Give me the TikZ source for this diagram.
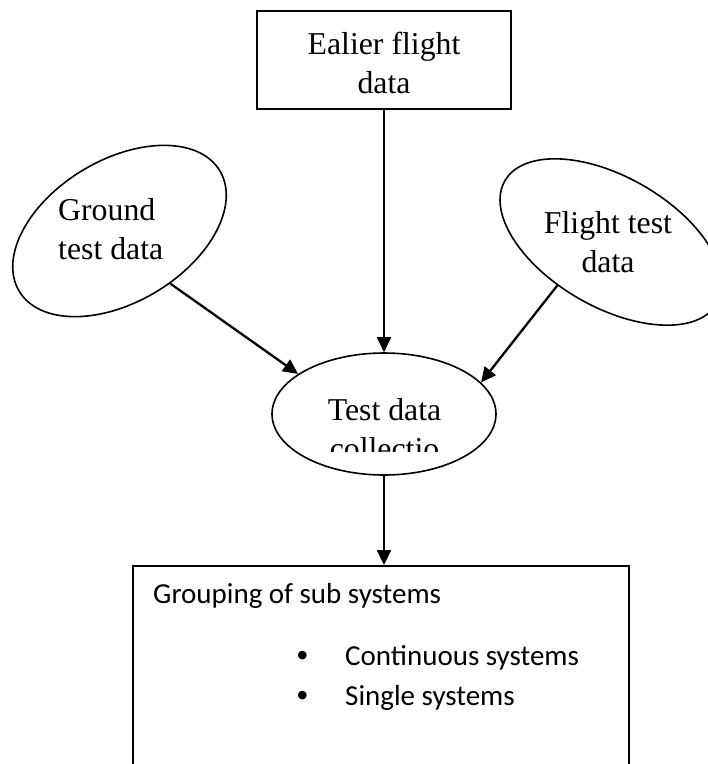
\documentclass[tikz,border=0pt]{standalone}
\usepackage{fontspec}
\setmainfont{Liberation Serif}
\newfontfamily\calibrifam{Carlito}
\usetikzlibrary{shapes.geometric,arrows.meta}
\begin{document}
\begin{tikzpicture}[x=1pt,y=-1pt,
  shapeline/.style={draw=black,line width=1.6pt},
  ell/.style={shapeline,ellipse,inner sep=0pt},
  boxshape/.style={shapeline,rectangle,inner sep=0pt},
  arr/.style={line width=2.3pt,-{Triangle[length=15pt,width=14pt]}},
  serif/.style={font=\fontsize{31.8}{39}\selectfont,align=center,inner sep=0pt},
  sans/.style={font=\calibrifam\fontsize{29}{40}\selectfont,inner sep=0pt}]
\useasboundingbox (0,0) rectangle (708,764);
\clip (0,0) rectangle (708,764);
% shapes
\node[boxshape,minimum width=254pt,minimum height=98pt] (top) at (384,60) {};
\node[ell,minimum width=234pt,minimum height=142pt,rotate=31] (ground) at (119.5,231) {};
\node[ell,minimum width=245pt,minimum height=130pt,rotate=-30] (flight) at (611,242) {};
\node[ell,minimum width=224pt,minimum height=122pt] (test) at (384,414) {};
\node[boxshape,minimum width=496pt,minimum height=240pt,anchor=north west] (group) at (132,565) {};
% texts
\node[serif,anchor=north] (toptxt) at (384,31.5) {Ealier flight\\data};
\node[serif,align=left,anchor=north west] (groundtxt) at (58,198.5) {Ground\\test data};
\node[serif,anchor=north] (flighttxt) at (608,211.5) {Flight test\\data};
\begin{scope}
  \clip (290,380) rectangle (480,451);
  \node[serif,anchor=north] (testtxt) at (384.5,398.5) {Test data\\collectio};
\end{scope}
\node[sans,anchor=base west] (title) at (153,603) {Grouping of sub systems};
\node[sans,anchor=base west] (item1) at (296,665) {\makebox[49pt][l]{\rmfamily\fontsize{36}{36}\selectfont\raisebox{-2pt}{•}}Continuous systems};
\node[sans,anchor=base west] (item2) at (296,705) {\makebox[49pt][l]{\rmfamily\fontsize{36}{36}\selectfont\raisebox{-2pt}{•}}Single systems};
% connectors
\draw[arr] (top) -- (test);
\draw[arr] (ground.283) -- (test.155);
\draw[arr] (flight.249) -- (test.18);
\draw[arr] (test.south) -- (test.south |- group.north);
\end{tikzpicture}
\end{document}
